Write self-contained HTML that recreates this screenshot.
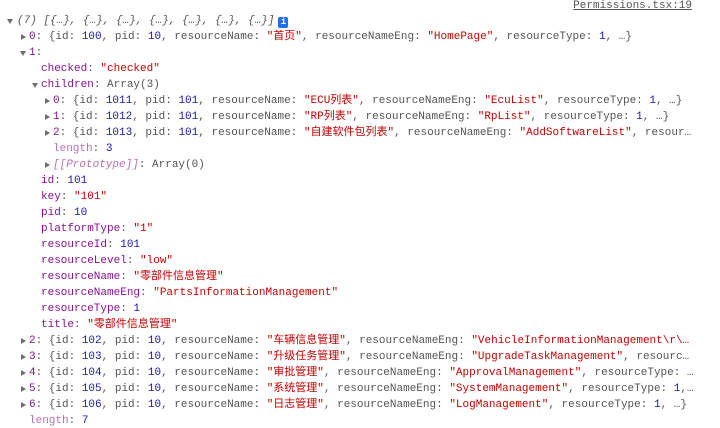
<!DOCTYPE html>
<html><head><meta charset="utf-8"><style>
html,body{margin:0;padding:0;background:#fff;width:720px;height:428px;overflow:hidden}
body{position:relative;font-family:"Liberation Mono","Noto Sans CJK SC",monospace;font-size:11px;color:#303942}
.r{position:absolute;height:16px;line-height:16px;white-space:nowrap;overflow:hidden;right:20px}
.k{color:#881391}.l{color:#b871b5}.s{color:#c80000}.n{color:#1a1aa6}.g{color:#555}
.tr{display:inline-block;width:0;height:0;border-top:3.5px solid transparent;border-bottom:3.5px solid transparent;border-left:5px solid #6e6e6e;position:absolute;top:5px}
.td{display:inline-block;width:0;height:0;border-left:3.5px solid transparent;border-right:3.5px solid transparent;border-top:5px solid #6e6e6e;position:absolute;top:6px}
.t{position:absolute;top:0}
.link{position:absolute;top:-1px;right:28px;color:#555;text-decoration:underline;line-height:14px}
.info{display:inline-block;width:10px;height:11px;background:#1a73e8;border-radius:2px;color:#fff;font-size:9px;line-height:11px;text-align:center;font-weight:bold;vertical-align:-1px;margin-left:4px}
</style></head><body>
<div class="link">Permissions.tsx:19</div>
<div class="r" style="top:13px;left:7px"><span class="td" style="left:0"></span><span class="t g" style="left:10px;font-style:italic">(7) [{…}, {…}, {…}, {…}, {…}, {…}, {…}]<span class="info" style="font-style:normal">i</span></span></div>
<div class="r" style="top:29px;left:21px"><span class="tr" style="left:0"></span><span class="t g" style="left:8px"><span class="k">0</span>: {id: <span class="n">100</span>, pid: <span class="n">10</span>, resourceName: <span class="s">"首页"</span>, resourceNameEng: <span class="s">"HomePage"</span>, resourceType: <span class="n">1</span>, …}</span></div>
<div class="r" style="top:45px;left:20px"><span class="td" style="left:0"></span><span class="t g" style="left:9px"><span class="k">1</span>:</span></div>
<div class="r g" style="top:61px;left:41px"><span class="k">checked</span>: <span class="s">"checked"</span></div>
<div class="r" style="top:77px;left:32px"><span class="td" style="left:0"></span><span class="t g" style="left:9px"><span class="k">children</span>: Array(3)</span></div>
<div class="r" style="top:93px;left:45px"><span class="tr" style="left:0"></span><span class="t g" style="left:8px"><span class="k">0</span>: {id: <span class="n">1011</span>, pid: <span class="n">101</span>, resourceName: <span class="s">"ECU列表"</span>, resourceNameEng: <span class="s">"EcuList"</span>, resourceType: <span class="n">1</span>, …}</span></div>
<div class="r" style="top:109px;left:45px"><span class="tr" style="left:0"></span><span class="t g" style="left:8px"><span class="k">1</span>: {id: <span class="n">1012</span>, pid: <span class="n">101</span>, resourceName: <span class="s">"RP列表"</span>, resourceNameEng: <span class="s">"RpList"</span>, resourceType: <span class="n">1</span>, …}</span></div>
<div class="r" style="top:125px;left:45px"><span class="tr" style="left:0"></span><span class="t g" style="left:8px"><span class="k">2</span>: {id: <span class="n">1013</span>, pid: <span class="n">101</span>, resourceName: <span class="s">"自建软件包列表"</span>, resourceNameEng: <span class="s">"AddSoftwareList"</span>, resour…</span></div>
<div class="r g" style="top:141px;left:53px"><span class="l">length</span>: <span class="n">3</span></div>
<div class="r" style="top:157px;left:45px"><span class="tr" style="left:0"></span><span class="t g" style="left:8px"><span class="l" style="font-style:italic">[[Prototype]]</span>: Array(0)</span></div>
<div class="r g" style="top:173px;left:41px"><span class="k">id</span>: <span class="n">101</span></div>
<div class="r g" style="top:189px;left:41px"><span class="k">key</span>: <span class="s">"101"</span></div>
<div class="r g" style="top:205px;left:41px"><span class="k">pid</span>: <span class="n">10</span></div>
<div class="r g" style="top:221px;left:41px"><span class="k">platformType</span>: <span class="s">"1"</span></div>
<div class="r g" style="top:237px;left:41px"><span class="k">resourceId</span>: <span class="n">101</span></div>
<div class="r g" style="top:253px;left:41px"><span class="k">resourceLevel</span>: <span class="s">"low"</span></div>
<div class="r g" style="top:269px;left:41px"><span class="k">resourceName</span>: <span class="s">"零部件信息管理"</span></div>
<div class="r g" style="top:285px;left:41px"><span class="k">resourceNameEng</span>: <span class="s">"PartsInformationManagement"</span></div>
<div class="r g" style="top:301px;left:41px"><span class="k">resourceType</span>: <span class="n">1</span></div>
<div class="r g" style="top:317px;left:41px"><span class="k">title</span>: <span class="s">"零部件信息管理"</span></div>
<div class="r" style="top:333px;left:21px"><span class="tr" style="left:0"></span><span class="t g" style="left:8px"><span class="k">2</span>: {id: <span class="n">102</span>, pid: <span class="n">10</span>, resourceName: <span class="s">"车辆信息管理"</span>, resourceNameEng: <span class="s">"VehicleInformationManagement\r\…</span></span></div>
<div class="r" style="top:349px;left:21px"><span class="tr" style="left:0"></span><span class="t g" style="left:8px"><span class="k">3</span>: {id: <span class="n">103</span>, pid: <span class="n">10</span>, resourceName: <span class="s">"升级任务管理"</span>, resourceNameEng: <span class="s">"UpgradeTaskManagement"</span>, resourc…</span></div>
<div class="r" style="top:365px;left:21px"><span class="tr" style="left:0"></span><span class="t g" style="left:8px"><span class="k">4</span>: {id: <span class="n">104</span>, pid: <span class="n">10</span>, resourceName: <span class="s">"审批管理"</span>, resourceNameEng: <span class="s">"ApprovalManagement"</span>, resourceType: …</span></div>
<div class="r" style="top:381px;left:21px"><span class="tr" style="left:0"></span><span class="t g" style="left:8px"><span class="k">5</span>: {id: <span class="n">105</span>, pid: <span class="n">10</span>, resourceName: <span class="s">"系统管理"</span>, resourceNameEng: <span class="s">"SystemManagement"</span>, resourceType: <span class="n">1</span>,…</span></div>
<div class="r" style="top:397px;left:21px"><span class="tr" style="left:0"></span><span class="t g" style="left:8px"><span class="k">6</span>: {id: <span class="n">106</span>, pid: <span class="n">10</span>, resourceName: <span class="s">"日志管理"</span>, resourceNameEng: <span class="s">"LogManagement"</span>, resourceType: <span class="n">1</span>, …}</span></div>
<div class="r g" style="top:413px;left:29px"><span class="l">length</span>: <span class="n">7</span></div>
</body></html>
